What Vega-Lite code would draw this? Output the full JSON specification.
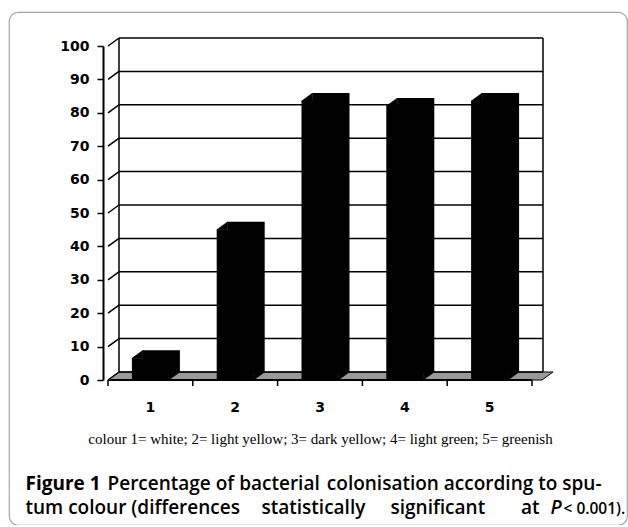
{
  "$schema": "https://vega.github.io/schema/vega-lite/v6.json",
  "width": 618,
  "height": 513,
  "autosize": "none",
  "padding": {"left": 9, "top": 12, "right": 1, "bottom": 0},
  "background": "white",
  "config": {
    "view": {"stroke": "#a6a6a6", "strokeWidth": 1.2, "cornerRadius": 9},
    "axis": {"titleColor": "#000000", "titleAngle": 0, "titleBaseline": "alphabetic", "titleFont": "Open Sans", "titleFontSize": 19, "titleFontWeight": 600}
  },
  "datasets": {
    "bars": [
      {"c": 1, "v": 6.5},
      {"c": 2, "v": 45},
      {"c": 3, "v": 83.5},
      {"c": 4, "v": 82},
      {"c": 5, "v": 83.5}
    ],
    "grid": [
      {"g": 0}, {"g": 10}, {"g": 20}, {"g": 30}, {"g": 40}, {"g": 50},
      {"g": 60}, {"g": 70}, {"g": 80}, {"g": 90}, {"g": 100}
    ],
    "walls": [{"b": 0.5}, {"b": 5.5}],
    "bounds": [{"b": 0.5}, {"b": 1.5}, {"b": 2.5}, {"b": 3.5}, {"b": 4.5}, {"b": 5.5}],
    "edge": [{"part": "front"}]
  },
  "resolve": {"axis": {"y": "independent"}},
  "layer": [
    {
      "data": {"name": "edge"},
      "mark": {"type": "point", "shape": "M0,0L11,-8L445,-8L434,0Z", "size": 4, "filled": true, "fill": "#999999", "stroke": "#000000", "strokeWidth": 1, "opacity": 1},
      "encoding": {
        "x": {"datum": 0.5, "type": "quantitative", "scale": {"domain": [0.5, 5.5], "range": [94, 528], "nice": false, "zero": false}, "axis": null},
        "y": {"datum": 0, "type": "quantitative", "scale": {"domain": [0, 100], "range": [368, 34], "nice": false},
          "axis": {"orient": "left", "domain": false, "ticks": false, "labels": false, "grid": false, "title": "Figure 1", "titleX": 16, "titleY": 477, "titleAlign": "left", "titleFontWeight": 700}}
      }
    },
    {
      "data": {"name": "grid"},
      "mark": {"type": "rule", "color": "#000000", "strokeWidth": 1.5, "xOffset": 11, "x2Offset": 11, "yOffset": -8},
      "encoding": {
        "x": {"datum": 0.5, "type": "quantitative", "axis": null},
        "x2": {"datum": 5.5},
        "y": {"field": "g", "type": "quantitative",
          "axis": {"orient": "left", "domain": false, "ticks": false, "labels": false, "grid": false, "title": "Percentage of bacterial", "titleX": 98, "titleY": 477, "titleAlign": "left"}}
      }
    },
    {
      "data": {"name": "walls"},
      "mark": {"type": "rule", "color": "#000000", "strokeWidth": 1.5, "xOffset": 11, "yOffset": -8, "y2Offset": -8},
      "encoding": {
        "x": {"field": "b", "type": "quantitative", "axis": null},
        "y": {"datum": 0, "type": "quantitative",
          "axis": {"orient": "left", "domain": false, "ticks": false, "labels": false, "grid": false, "title": "colonisation according to spu-", "titleX": 592, "titleY": 477, "titleAlign": "right"}},
        "y2": {"datum": 100}
      }
    },
    {
      "data": {"name": "grid"},
      "mark": {"type": "rule", "color": "#000000", "strokeWidth": 1.5, "x2Offset": 11, "y2Offset": -8},
      "encoding": {
        "x": {"datum": 0.5, "type": "quantitative", "axis": null},
        "x2": {"datum": 0.5},
        "y": {"field": "g", "type": "quantitative",
          "axis": {"orient": "left", "domain": false, "ticks": false, "labels": false, "grid": false, "title": "tum colour (differences", "titleX": 16, "titleY": 501, "titleAlign": "left"}},
        "y2": {"field": "g"}
      }
    },
    {
      "data": {"name": "bars"},
      "mark": {"type": "bar", "color": "#000000", "width": 37, "xOffset": 11, "yOffset": -8, "y2Offset": -8},
      "encoding": {
        "x": {"field": "c", "type": "quantitative", "axis": null},
        "y": {"field": "v", "type": "quantitative",
          "axis": {"orient": "left", "domain": false, "ticks": false, "labels": false, "grid": false, "title": "statistically", "titleX": 252, "titleY": 501, "titleAlign": "left"}}
      }
    },
    {
      "data": {"name": "bars"},
      "mark": {"type": "bar", "color": "#000000", "width": 37},
      "encoding": {
        "x": {"field": "c", "type": "quantitative", "axis": null},
        "y": {
          "field": "v", "type": "quantitative",
          "axis": {
            "orient": "left", "offset": -94, "values": [0, 10, 20, 30, 40, 50, 60, 70, 80, 90, 100], "grid": false,
            "domainColor": "#000000", "domainWidth": 2, "tickColor": "#000000", "tickWidth": 1.5, "tickSize": 6,
            "labelFont": "DejaVu Sans", "labelFontWeight": "bold", "labelFontSize": 14, "labelColor": "#000000", "labelPadding": 8,
            "title": null
          }
        }
      }
    },
    {
      "data": {"name": "bars"},
      "mark": {"type": "point", "shape": "M-18.5,0L-7.5,-8L-7.5,0Z", "size": 4, "filled": true, "fill": "#000000", "stroke": "#000000", "strokeWidth": 0.5, "opacity": 1},
      "encoding": {
        "x": {"field": "c", "type": "quantitative", "axis": null},
        "y": {"field": "v", "type": "quantitative",
          "axis": {"orient": "left", "domain": false, "ticks": false, "labels": false, "grid": false, "title": "P", "titleX": 541, "titleY": 501, "titleAlign": "left", "titleFontStyle": "italic"}}
      }
    },
    {
      "data": {"name": "bars"},
      "mark": {"type": "point", "shape": "M18.5,0L29.5,-8L18.5,-8Z", "size": 4, "filled": true, "fill": "#000000", "stroke": "#000000", "strokeWidth": 0.5, "opacity": 1},
      "encoding": {
        "x": {"field": "c", "type": "quantitative", "axis": null},
        "y": {"datum": 0, "type": "quantitative",
          "axis": {"orient": "left", "domain": false, "ticks": false, "labels": false, "grid": false, "title": "< 0.001).", "titleX": 554, "titleY": 501, "titleAlign": "left", "titleFontSize": 15.5}}
      }
    },
    {
      "data": {"name": "bounds"},
      "mark": {"type": "rule", "color": "#000000", "strokeWidth": 1.5, "y2Offset": 6},
      "encoding": {
        "x": {"field": "b", "type": "quantitative", "axis": null},
        "y": {"datum": 0, "type": "quantitative",
          "axis": {"orient": "left", "domain": false, "ticks": false, "labels": false, "grid": false, "title": "colour 1= white; 2= light yellow; 3= dark yellow; 4= light green; 5= greenish", "titleX": 311, "titleY": 431, "titleAlign": "center", "titleFont": "Liberation Serif", "titleFontSize": 15, "titleFontWeight": "normal"}},
        "y2": {"datum": 0}
      }
    },
    {
      "data": {"name": "edge"},
      "mark": {"type": "rule", "color": "#000000", "strokeWidth": 2},
      "encoding": {
        "x": {"datum": 0.5, "type": "quantitative", "axis": null},
        "x2": {"datum": 5.5},
        "y": {"datum": 0, "type": "quantitative",
          "axis": {"orient": "left", "domain": false, "ticks": false, "labels": false, "grid": false, "title": "significant", "titleX": 381, "titleY": 501, "titleAlign": "left"}}
      }
    },
    {
      "data": {"name": "bars"},
      "mark": {"type": "text", "font": "DejaVu Sans", "fontWeight": "bold", "fontSize": 14, "color": "#000000", "dy": 28, "baseline": "middle", "align": "center"},
      "encoding": {
        "x": {"field": "c", "type": "quantitative", "axis": null},
        "y": {"datum": 0, "type": "quantitative",
          "axis": {"orient": "left", "domain": false, "ticks": false, "labels": false, "grid": false, "title": "at", "titleX": 530, "titleY": 501, "titleAlign": "right"}},
        "text": {"field": "c", "type": "nominal"}
      }
    }
  ]
}
